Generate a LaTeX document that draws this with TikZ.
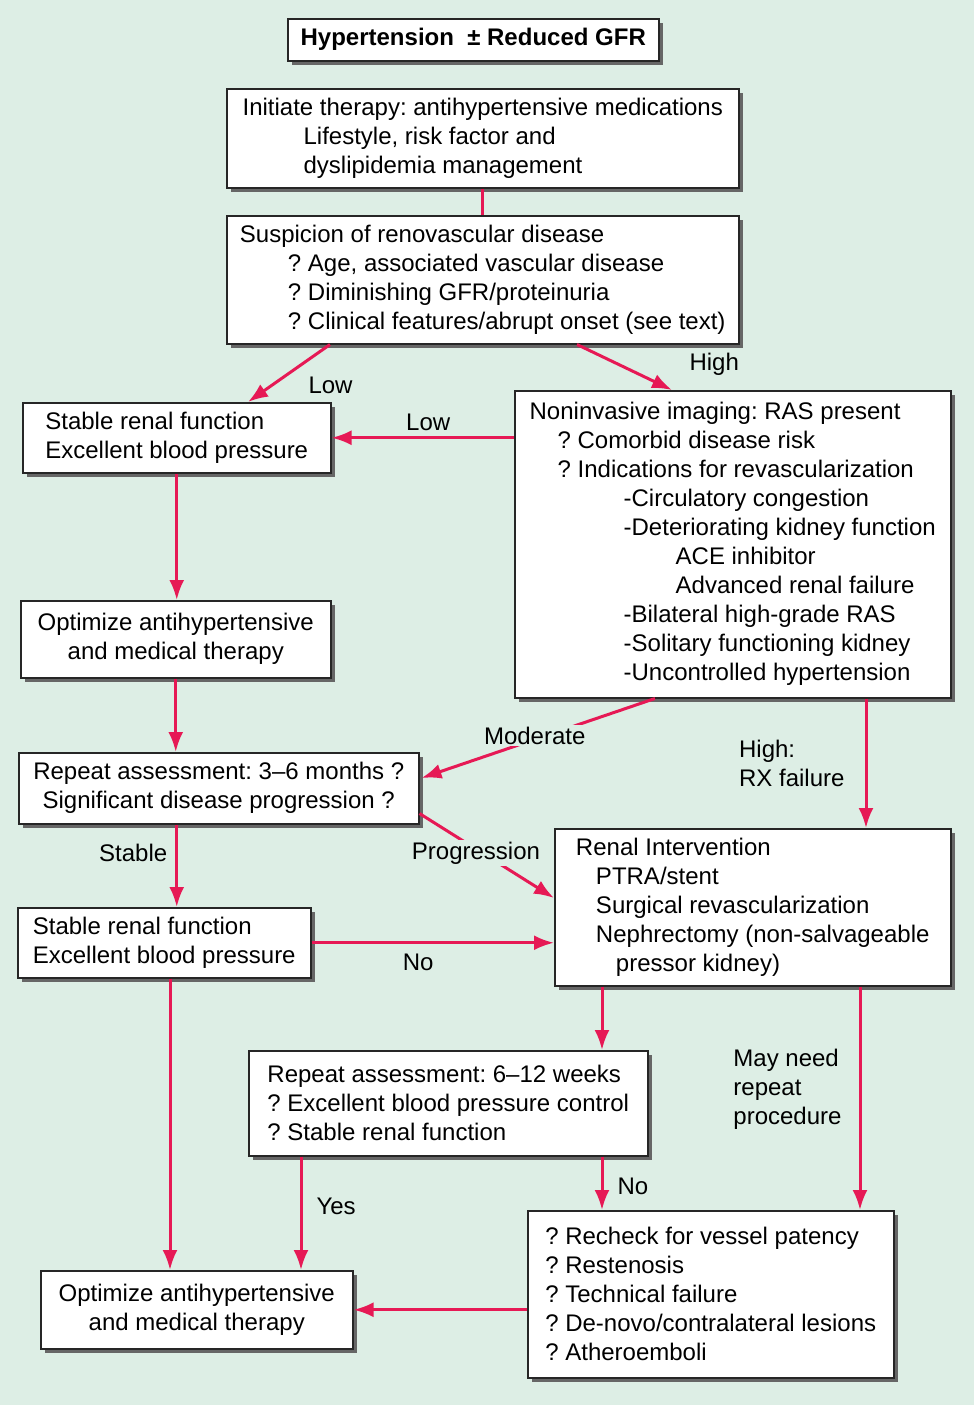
\documentclass[tikz,border=0pt]{standalone}
\usepackage{fontspec}
\setmainfont{Liberation Sans}
\usetikzlibrary{arrows.meta,calc,positioning,shadows}
\definecolor{bgmint}{RGB}{221,238,229}
\definecolor{arrred}{RGB}{230,25,85}

\begin{document}
\frenchspacing
\begin{tikzpicture}[
  x=0.5pt, y=-0.5pt,
  every node/.style = {font=\fontsize{12}{14.5}\selectfont},
  box/.style 2 args = {draw=black!85, fill=white, line width=0.75pt, anchor=north west,
    align=left, inner xsep=0pt, inner ysep=0pt, minimum width=#1, minimum height=#2,
    drop shadow={shadow xshift=2pt, shadow yshift=-2pt, fill=black!60, opacity=1}},
  flow/.style = {draw=arrred, line width=1.5pt, -{Latex[length=10pt,width=7.5pt]}},
  link/.style = {draw=arrred, line width=1.5pt},
  lbl/.style = {inner sep=1pt},
  cut/.style = {inner sep=1pt, fill=bgmint}
  ]
	\fill[bgmint] (0,0) rectangle (974,1405);
	\useasboundingbox (0,0) rectangle (974,1405);

	\node[box={185.5pt}{21pt}, align=center, font=\fontsize{12}{14.5}\selectfont\bfseries] (title) at (287,18)
		{Hypertension \ ± Reduced GFR};
	\node[box={256pt}{49.5pt}] (init) at (226,88)
		{Initiate therapy: antihypertensive medications\\
		 \hspace*{30.5pt}Lifestyle, risk factor and\\
		 \hspace*{30.5pt}dyslipidemia management};
	\node[box={256pt}{64pt}] (sus) at (226,215)
		{Suspicion of renovascular disease\\
		 \hspace*{24pt}? Age, associated vascular disease\\
		 \hspace*{24pt}? Diminishing GFR/proteinuria\\
		 \hspace*{24pt}? Clinical features/abrupt onset (see text)};
	\node[box={154pt}{35pt}] (stab1) at (22,402)
		{Stable renal function\\Excellent blood pressure};
	\node[box={218pt}{153.5pt}] (nonin) at (514,390)
		{Noninvasive imaging: RAS present\\
		 \hspace*{14pt}? Comorbid disease risk\\
		 \hspace*{14pt}? Indications for revascularization\\
		 \hspace*{47pt}-Circulatory congestion\\
		 \hspace*{47pt}-Deteriorating kidney function\\
		 \hspace*{73pt}ACE inhibitor\\
		 \hspace*{73pt}Advanced renal failure\\
		 \hspace*{47pt}-Bilateral high-grade RAS\\
		 \hspace*{47pt}-Solitary functioning kidney\\
		 \hspace*{47pt}-Uncontrolled hypertension};
	\node[box={155pt}{38.5pt}, align=center] (opt1) at (20,600)
		{Optimize antihypertensive\\and medical therapy};
	\node[box={200pt}{35.5pt}, align=center] (rep1) at (18,752)
		{Repeat assessment: 3--6 months ?\\Significant disease progression ?};
	\node[box={146.5pt}{35pt}] (stab2) at (17,907)
		{Stable renal function\\Excellent blood pressure};
	\node[box={198pt}{78.5pt}] (renal) at (554,828)
		{Renal Intervention\\
		 \hspace*{10pt}PTRA/stent\\
		 \hspace*{10pt}Surgical revascularization\\
		 \hspace*{10pt}Nephrectomy (non-salvageable\\
		 \hspace*{20pt}pressor kidney)};
	\node[box={199.5pt}{52.5pt}] (rep2) at (248,1050)
		{Repeat assessment: 6--12 weeks\\
		 ? Excellent blood pressure control\\
		 ? Stable renal function};
	\node[box={183pt}{83.5pt}] (recheck) at (527,1210)
		{? Recheck for vessel patency\\
		 ? Restenosis\\
		 ? Technical failure\\
		 ? De-novo/contralateral lesions\\
		 ? Atheroemboli};
	\node[box={156pt}{39pt}, align=center] (opt2) at (40,1270)
		{Optimize antihypertensive\\and medical therapy};

	\coordinate (rx) at ($(nonin.south west)+(352,0)$);
	\coordinate (mod) at ($(nonin.south west)+(141,0)$);
	\coordinate (stout) at ($(stab2.south west)+(153,0)$);
	\coordinate (reout) at ($(renal.south west)+(48,0)$);
	\coordinate (reagain) at ($(renal.south west)+(306,0)$);
	\coordinate (yes) at ($(rep2.south west)+(53,0)$);

	\draw[link] (init.south) -- (init.south |- sus.north);
	\draw[flow] ($(sus.south west)+(104,0)$) -- node[lbl, pos=0.5, anchor=west, xshift=8pt, yshift=-6pt] {Low} ($(stab1.north west)+(226,0)$);
	\draw[flow] ($(sus.south west)+(351,0)$) -- node[lbl, pos=1, anchor=west, xshift=7pt, yshift=13pt] {High} ($(nonin.north west)+(158,0)$);
	\draw[flow] (nonin.west |- stab1.east) -- node[lbl, pos=0.47, above=2pt] {Low} (stab1.east);
	\draw[flow] (stab1.south) -- (stab1.south |- opt1.north);
	\draw[flow] (opt1.south) -- (opt1.south |- rep1.north);
	\draw[flow] (mod) -- node[cut, pos=0.515, yshift=2pt] {Moderate} ($(rep1.north east)+(2,26)$);
	\draw[flow] (rx) -- node[lbl, pos=0.5, left=9pt, align=left] {High:\\RX failure} (rx |- renal.north);
	\draw[flow] ($(rep1.south east)+(0,-11)$) -- node[cut, pos=0.42, yshift=-2pt] {Progression} ($(renal.north west)+(0,70)$);
	\draw[flow] (rep1.south -| stab1.south) -- node[lbl, pos=0.34, left=3pt] {Stable} (stab1.south |- stab2.north);
	\draw[flow] (stab2.east) -- node[lbl, pos=0.44, below=4pt] {No} (stab2.east -| renal.west);
	\draw[flow] (stout) -- (stout |- opt2.north);
	\draw[flow] (reout) -- (reout |- rep2.north);
	\draw[flow] (reagain) -- node[lbl, pos=0.46, left=7.5pt, align=left] {May need\\repeat\\procedure} (reagain |- recheck.north);
	\draw[flow] (reout |- rep2.south) -- node[lbl, pos=0.55, right=6pt] {No} (reout |- recheck.north);
	\draw[flow] (yes) -- node[lbl, pos=0.44, right=6pt] {Yes} (yes |- opt2.north);
	\draw[flow] (recheck.west |- opt2.east) -- (opt2.east);

\end{tikzpicture}
\end{document}
